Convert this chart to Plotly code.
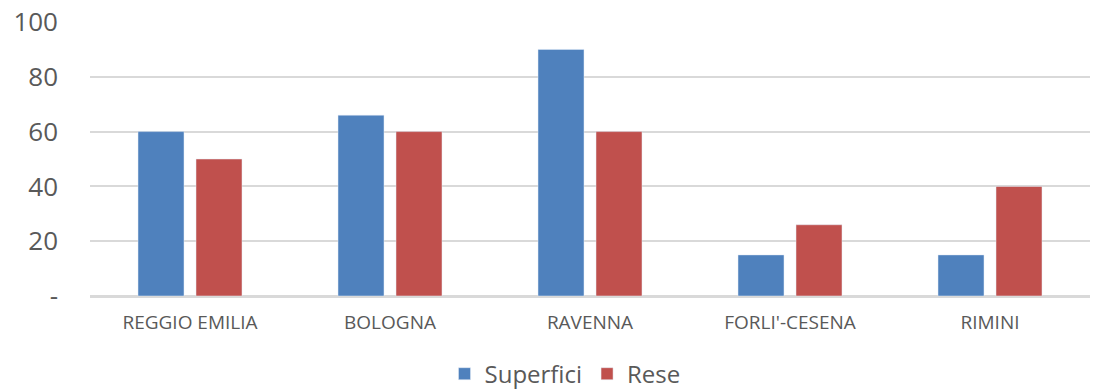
import plotly.graph_objects as go

categories = ["REGGIO EMILIA", "BOLOGNA", "RAVENNA", "FORLI'-CESENA", "RIMINI"]
superfici = [60, 66, 90, 15, 15]
rese = [50, 60, 60, 26, 40]
y_tickvals = [0, 20, 40, 60, 80, 100]
y_ticktext = ["-", "20", "40", "60", "80", "100"]

FONT = "Open Sans, Lato, sans-serif"
GRAY = "#595959"

fig = go.Figure()
fig.add_trace(go.Bar(name="Superfici", x=categories, y=superfici, marker_color="#4F81BD"))
fig.add_trace(go.Bar(name="Rese", x=categories, y=rese, marker_color="#C0504D"))

fig.update_layout(
    width=1100, height=392,
    margin=dict(l=90, r=10, t=22, b=96, autoexpand=False),
    paper_bgcolor="white", plot_bgcolor="white",
    barmode="group", bargap=0.42, bargroupgap=0.207,
    font=dict(family=FONT, color=GRAY),
    legend=dict(orientation="h", x=0.475, xanchor="center", y=-0.285, yanchor="middle",
                font=dict(size=24, color=GRAY), itemwidth=30, traceorder="normal"),
    showlegend=True,
)
fig.update_xaxes(showgrid=False, showline=True, linecolor="#d9d9d9", linewidth=1.5,
                 tickfont=dict(size=19, color=GRAY), ticks="", ticklabelstandoff=8,
                 automargin=False)
fig.update_yaxes(range=[0, 100], tickvals=y_tickvals, ticktext=y_ticktext,
                 showgrid=True, gridcolor="#d9d9d9", gridwidth=1.5,
                 zeroline=True, zerolinecolor="#d9d9d9", zerolinewidth=1.5,
                 showline=False, ticks="", tickfont=dict(size=26, color=GRAY),
                 ticklabelstandoff=31, automargin=False)

fig.write_html("out.html", config={"displayModeBar": False},
               post_script="document.body.style.margin='0';document.body.style.overflow='hidden';")
